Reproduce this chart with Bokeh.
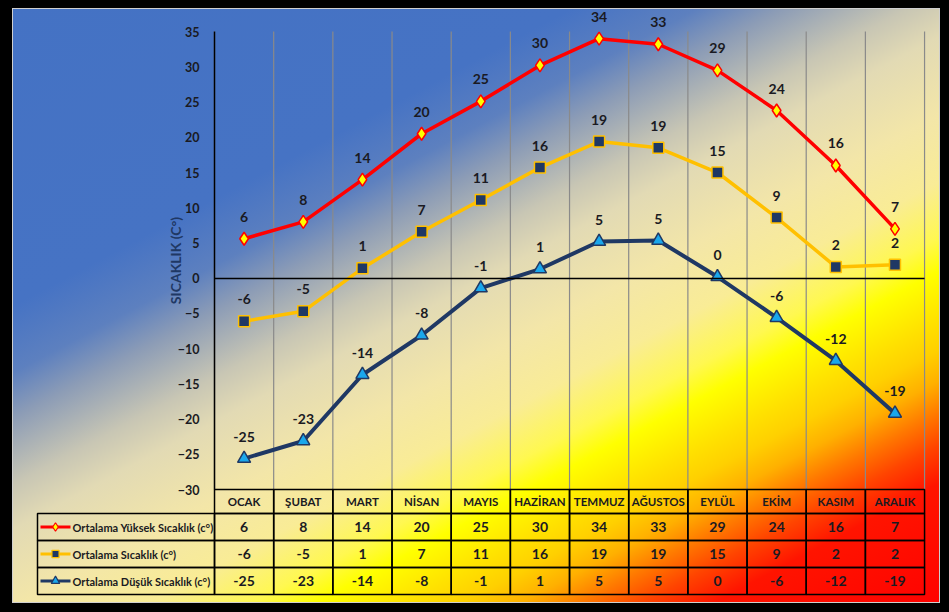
from bokeh.plotting import figure
from bokeh.models import Range1d, LinearAxis, FixedTicker, ColumnDataSource
from bokeh.core.properties import value
from bokeh.embed import file_html
from bokeh.resources import INLINE

# ---------------- data ----------------
months = ["OCAK", "ŞUBAT", "MART", "NİSAN", "MAYIS", "HAZİRAN",
          "TEMMUZ", "AĞUSTOS", "EYLÜL", "EKİM", "KASIM", "ARALIK"]
high = [5.6, 8.0, 14.0, 20.5, 25.1, 30.2, 34.0, 33.2, 29.5, 23.8, 16.0, 7.0]
mean = [-6.1, -4.7, 1.4, 6.6, 11.1, 15.7, 19.4, 18.5, 15.0, 8.6, 1.6, 1.9]
low = [-25.6, -23.1, -13.7, -8.1, -1.4, 1.3, 5.2, 5.35, 0.2, -5.6, -11.7, -19.2]
high_lbl = [6, 8, 14, 20, 25, 30, 34, 33, 29, 24, 16, 7]
mean_lbl = [-6, -5, 1, 7, 11, 16, 19, 19, 15, 9, 2, 2]
low_lbl = [-25, -23, -14, -8, -1, 1, 5, 5, 0, -6, -12, -19]
series_names = ["Ortalama Yüksek Sıcaklık (c°)", "Ortalama Sıcaklık (c°)",
                "Ortalama Düşük Sıcaklık (c°)"]
yticks = [-30, -25, -20, -15, -10, -5, 0, 5, 10, 15, 20, 25, 30, 35]
y_title = "SICAKLIK (C°)"

# ---------------- layout helpers (pixel -> data) ----------------
W, H = 949, 612
PX0, PXS = 243.6, 59.17     # x of first column centre, column width (px)
PY0, PYS = 277.7, 7.046     # y of value 0, pixels per unit


def vx(px):
    return (px - PX0) / PXS


def vy(py):
    return (PY0 - py) / PYS


FONT_NAME = "Lato"
FONT = value(FONT_NAME)
TXT = "#1a1a22"

p = figure(width=W, height=H, output_backend="svg", toolbar_location=None, title=None,
           x_axis_type=None, y_axis_type=None,
           x_range=Range1d(vx(0), vx(W)), y_range=Range1d(vy(H), vy(0)),
           min_border=0, background_fill_alpha=0, border_fill_alpha=0,
           outline_line_color=None)
p.styles = {"background": "linear-gradient(152deg, #4472C4 0%, #4673C4 28%, #5D80BF 34%, "
                          "#8C9CB6 38%, #C8C6B4 44%, #E2DAB4 48%, #F3E6A8 55%, #F9EC96 61%, "
                          "#FFF850 66%, #FFFF00 69%, #FFE000 73.5%, #FFD000 76%, #FFB000 78.8%, "
                          "#FF7800 81.7%, #FF4400 84.6%, #FF1400 88%, #FF0000 100%)",
            "box-shadow": "inset 12px 8px 0 0 #000, inset -9px -9px 0 0 #000, "
                          "inset 13px 9px 0 0 #cfcfcf, inset -10px -10px 0 0 #cfcfcf"}

n = len(months)
xs = list(range(n))

# vertical grid lines at column boundaries (plot area only)
p.segment(x0=[i - 0.5 for i in range(n + 1)], y0=yticks[0], x1=[i - 0.5 for i in range(n + 1)],
          y1=yticks[-1], line_color="#8a8a8a", line_width=1.2)

# y axis inside the frame
yax = LinearAxis(fixed_location=-0.5, ticker=FixedTicker(ticks=yticks), bounds=(yticks[0], yticks[-1]),
                 axis_line_color="black", axis_line_width=1.5,
                 major_tick_line_color=None, minor_tick_line_color=None,
                 major_label_text_font=FONT_NAME, major_label_text_font_style="bold",
                 major_label_text_font_size="12.5px", major_label_text_color=TXT,
                 major_label_standoff=9,
                 axis_label=y_title, axis_label_text_font=FONT_NAME, axis_label_text_font_style="bold",
                 axis_label_text_font_size="14px", axis_label_text_color="#1F3864",
                 axis_label_standoff=-9)
p.add_layout(yax, "left")

# zero line as a fixed x axis
xax = LinearAxis(fixed_location=0, ticker=FixedTicker(ticks=[]), bounds=(-0.5, n - 0.5),
                 axis_line_color="black", axis_line_width=1.5,
                 major_tick_line_color=None, minor_tick_line_color=None,
                 major_label_text_font_size="0px")
p.add_layout(xax, "below")

src = ColumnDataSource(dict(x=xs, high=high, mean=mean, low=low,
                            hl=[str(v) for v in high_lbl], ml=[str(v) for v in mean_lbl],
                            ll=[str(v) for v in low_lbl], month=months))

styles = [
    ("high", "hl", "#FF0000", 3.5, "diamond", 13, "#FFFF00", "#FF0000"),
    ("mean", "ml", "#FFC000", 3.5, "square", 11, "#1F3864", "#FFC000"),
    ("low", "ll", "#1F3864", 4.0, "triangle", 13, "#1AA7EC", "#1F3864"),
]
for col, lab, lc, lw, mk, ms, mf, ml in styles:
    p.line("x", col, source=src, line_color=lc, line_width=lw)
    p.scatter("x", col, source=src, marker=mk, size=ms, fill_color=mf, line_color=ml, line_width=1.5)
    p.text("x", col, text=lab, source=src, y_offset=-22, text_align="center", text_baseline="middle",
           text_font=FONT, text_font_style="bold", text_font_size="14px", text_color=TXT)

# ---------------- data table ----------------
rows_px = [489.1, 513, 540, 567, 594]
rb = [vy(v) for v in rows_px]
leg_left = vx(37)

# header row
p.quad(left=[i - 0.5 for i in xs], right=[i + 0.5 for i in xs], top=rb[0], bottom=rb[1],
       fill_alpha=0, line_color="black", line_width=1.5)
p.text(x=xs, y=[(rb[0] + rb[1]) / 2] * n, text=months, text_align="center", text_baseline="middle",
       text_font=FONT, text_font_style="bold", text_font_size="11.5px", text_color=TXT)

row_labels = [high_lbl, mean_lbl, low_lbl]
for r in range(3):
    top, bot = rb[r + 1], rb[r + 2]
    cy = (top + bot) / 2
    p.quad(left=[leg_left] + [i - 0.5 for i in xs], right=[-0.5] + [i + 0.5 for i in xs],
           top=top, bottom=bot, fill_alpha=0, line_color="black", line_width=1.5)
    p.text(x=xs, y=[cy] * n, text=[str(v) for v in row_labels[r]], text_align="center",
           text_baseline="middle", text_font=FONT, text_font_style="bold", text_font_size="14px",
           text_color=TXT)
    col, lab, lc, lw, mk, ms, mf, ml = styles[r]
    p.segment(x0=[vx(40)], y0=[cy], x1=[vx(70)], y1=[cy], line_color=lc, line_width=3)
    p.scatter(x=[vx(55)], y=[cy], marker=mk, size=ms * 0.65, fill_color=mf, line_color=ml, line_width=1.2)
    p.text(x=[vx(72)], y=[cy], text=[series_names[r]], text_align="left", text_baseline="middle",
           text_font=FONT, text_font_style="bold", text_font_size="11px", text_color=TXT)

open("out.html", "w").write(file_html(p, INLINE))
